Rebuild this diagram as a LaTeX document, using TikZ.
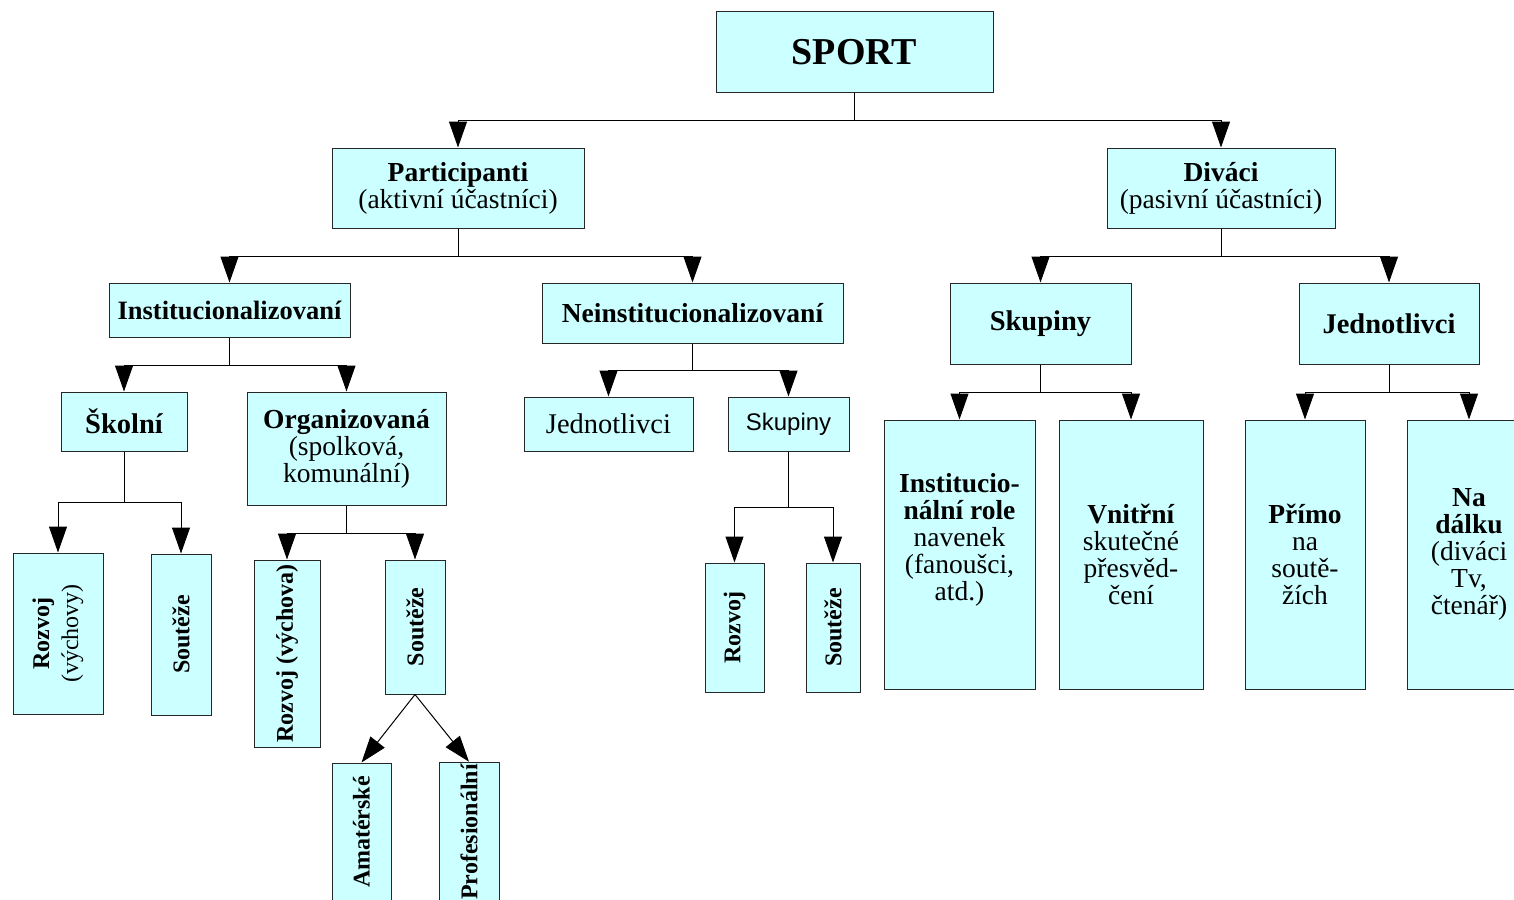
\documentclass[tikz,border=0pt]{standalone}
\usepackage{fontspec}
\setmainfont{Liberation Serif}
\setsansfont{Liberation Sans}
\usetikzlibrary{arrows.meta, positioning}
\definecolor{boxfill}{RGB}{204,255,255}
\newcommand{\fsnorm}{\fontsize{27.5}{27}\selectfont}
\newcommand{\fswide}{\fontsize{28.5}{29}\selectfont}
\newcommand{\fsrot}{\fontsize{24}{29}\selectfont}
\newcommand{\fssport}{\fontsize{38}{40}\selectfont}
\tikzset{
box/.style={draw=black!85, fill=boxfill, line width=1pt, inner sep=2pt, align=center, font=\fsnorm}, % every box
vbox/.style={box, rotate=90, font=\fsrot\bfseries}, % narrow boxes, the text runs upwards
arr/.style={-{Triangle[width=18pt, length=26pt]}, line width=1pt}, % the big black heads
}

\begin{document}
\begin{tikzpicture}[x=1pt, y=-1pt] % one unit is one pixel, y runs downwards
\useasboundingbox (0,0) rectangle (1514,899);
% top
\node[box, minimum width=277pt, minimum height=80pt, font=\fssport\bfseries] (sport) at (854.5,52) {SPORT};
\node[box, minimum width=252pt, minimum height=80pt] (part) at (458,188) {\textbf{Participanti}\\(aktivní účastníci)};
\node[box, minimum width=228pt, minimum height=80pt] (divaci) at (1221,188) {\textbf{Diváci}\\(pasivní účastníci)};
% participanti
\node[box, minimum width=241pt, minimum height=54pt, font=\fontsize{26.5}{27}\bfseries] (inst) at (229.5,310) {Institucionalizovaní};
\node[box, minimum width=301pt, minimum height=60pt, font=\fsnorm\bfseries] (neinst) at (692.5,313) {Neinstitucionalizovaní};
\node[box, minimum width=126pt, minimum height=59pt, font=\fswide\bfseries] (skol) at (124,421.5) {Školní};
\node[box, minimum width=199pt, minimum height=113pt] (org) at (346.5,448.5) {\textbf{Organizovaná}\\(spolková,\\komunální)};
\node[box, minimum width=169pt, minimum height=54pt, font=\fswide] (jednN) at (608.5,424) {Jednotlivci};
\node[box, minimum width=121pt, minimum height=54pt, font=\fontsize{24}{26}\sffamily] (skupN) at (788.5,424) {Skupiny};
\node[vbox, minimum width=161pt, minimum height=90pt, font=\fsrot] (rozvojS) at (58,633.5) {\textbf{Rozvoj}\\(výchovy)};
\node[vbox, minimum width=161pt, minimum height=60pt] (soutS) at (181,634.5) {Soutěže};
\node[vbox, minimum width=187pt, minimum height=66pt] (rozvojO) at (287,653.5) {Rozvoj (výchova)};
\node[vbox, minimum width=134pt, minimum height=60pt] (soutO) at (415,627) {Soutěže};
\node[vbox, minimum width=138pt, minimum height=59pt] (amat) at (361.5,832) {Amatérské};
\node[vbox, minimum width=138pt, minimum height=60pt] (prof) at (469,832) {Profesionální};
\node[vbox, minimum width=129pt, minimum height=59pt] (rozvojN) at (734.5,627.5) {Rozvoj};
\node[vbox, minimum width=129pt, minimum height=54pt] (soutN) at (833,627.5) {Soutěže};
% divaci
\node[box, minimum width=181pt, minimum height=81pt, font=\fswide\bfseries] (skup) at (1040.5,323.5) {Skupiny};
\node[box, minimum width=180pt, minimum height=81pt, font=\fswide\bfseries] (jedn) at (1389,323.5) {Jednotlivci};
\node[box, minimum width=151pt, minimum height=269pt] (role) at (959.5,554.5) {\textbf{Institucio-}\\\textbf{nální role}\\navenek\\(fanoušci,\\atd.)\\[8pt]};
\node[box, minimum width=144pt, minimum height=269pt] (vnitr) at (1131,554.5) {\textbf{Vnitřní}\\skutečné\\přesvěd-\\čení};
\node[box, minimum width=120pt, minimum height=269pt] (primo) at (1305,554.5) {\textbf{Přímo}\\na\\soutě-\\žích};
\node[box, minimum width=124pt, minimum height=269pt] (dalku) at (1469,554.5) {\textbf{Na}\\\textbf{dálku}\\(diváci\\Tv,\\čtenář)};

% connectors
\draw[arr] (sport.south) -- ++(0,28) -| (part.north);
\draw[arr] (sport.south) -- ++(0,28) -| (divaci.north);
\draw[arr] (part.south) -- ++(0,28) -| (inst.north);
\draw[arr] (part.south) -- ++(0,28) -| (neinst.north);
\draw[arr] (divaci.south) -- ++(0,28) -| (skup.north);
\draw[arr] (divaci.south) -- ++(0,28) -| (jedn.north);
\draw[arr] (inst.south) -- ++(0,28) -| (skol.north);
\draw[arr] (inst.south) -- ++(0,28) -| (org.north);
\draw[arr] (neinst.south) -- ++(0,27) -| (jednN.north);
\draw[arr] (neinst.south) -- ++(0,27) -| (skupN.north);
\draw[arr] (skup.south) -- ++(0,28) -| (role.north);
\draw[arr] (skup.south) -- ++(0,28) -| (vnitr.north);
\draw[arr] (jedn.south) -- ++(0,28) -| (primo.north);
\draw[arr] (jedn.south) -- ++(0,28) -| (dalku.north);
\draw[arr] (skol.south) -- ++(0,51) -| (rozvojS.east);
\draw[arr] (skol.south) -- ++(0,51) -| (soutS.east);
\draw[arr] (org.south) -- ++(0,28) -| (rozvojO.east);
\draw[arr] (org.south) -- ++(0,28) -| (soutO.east);
\draw[arr] (skupN.south) -- ++(0,56) -| (rozvojN.east);
\draw[arr] (skupN.south) -- ++(0,56) -| (soutN.east);
\draw[arr] (soutO.west) -- (amat.east);
\draw[arr] (soutO.west) -- (prof.east);
\end{tikzpicture}
\end{document}
